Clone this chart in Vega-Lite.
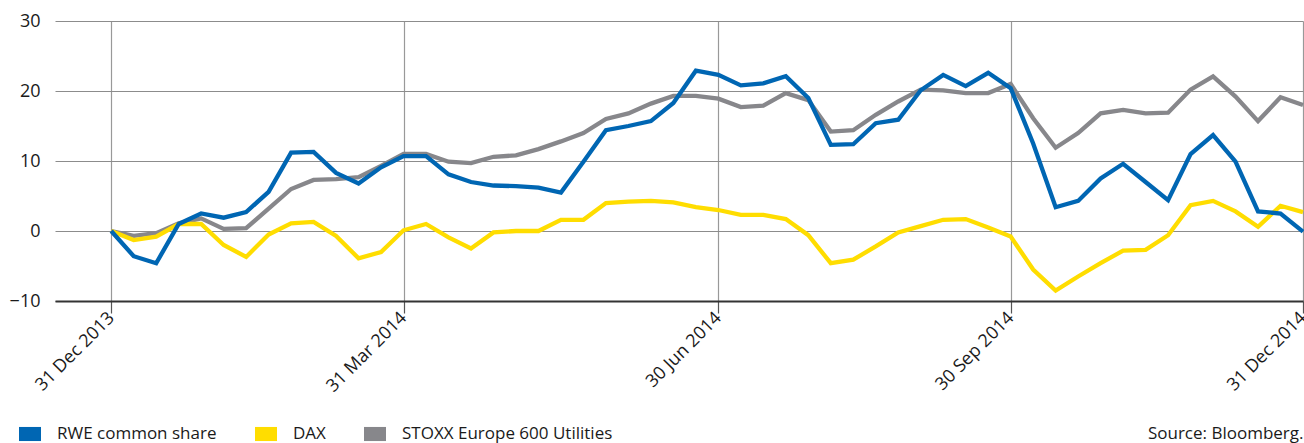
{
  "$schema": "https://vega.github.io/schema/vega-lite/v6.json",
  "autosize": {"type": "none"},
  "width": 1248,
  "height": 280,
  "padding": {"left": 55, "top": 21, "right": 1, "bottom": 142},
  "background": "white",
  "config": {
    "view": {"stroke": null},
    "font": "Open Sans"
  },
  "data": {
    "values": [
      {"week": 0, "series": "STOXX Europe 600 Utilities", "value": 0},
      {"week": 1, "series": "STOXX Europe 600 Utilities", "value": -0.7},
      {"week": 2, "series": "STOXX Europe 600 Utilities", "value": -0.3},
      {"week": 3, "series": "STOXX Europe 600 Utilities", "value": 1.1},
      {"week": 4, "series": "STOXX Europe 600 Utilities", "value": 1.8},
      {"week": 5, "series": "STOXX Europe 600 Utilities", "value": 0.3},
      {"week": 6, "series": "STOXX Europe 600 Utilities", "value": 0.4},
      {"week": 7, "series": "STOXX Europe 600 Utilities", "value": 3.2},
      {"week": 8, "series": "STOXX Europe 600 Utilities", "value": 6.0},
      {"week": 9, "series": "STOXX Europe 600 Utilities", "value": 7.3},
      {"week": 10, "series": "STOXX Europe 600 Utilities", "value": 7.4},
      {"week": 11, "series": "STOXX Europe 600 Utilities", "value": 7.7},
      {"week": 12, "series": "STOXX Europe 600 Utilities", "value": 9.3},
      {"week": 13, "series": "STOXX Europe 600 Utilities", "value": 11.0},
      {"week": 14, "series": "STOXX Europe 600 Utilities", "value": 11.0},
      {"week": 15, "series": "STOXX Europe 600 Utilities", "value": 9.9},
      {"week": 16, "series": "STOXX Europe 600 Utilities", "value": 9.7},
      {"week": 17, "series": "STOXX Europe 600 Utilities", "value": 10.6},
      {"week": 18, "series": "STOXX Europe 600 Utilities", "value": 10.8},
      {"week": 19, "series": "STOXX Europe 600 Utilities", "value": 11.7},
      {"week": 20, "series": "STOXX Europe 600 Utilities", "value": 12.8},
      {"week": 21, "series": "STOXX Europe 600 Utilities", "value": 14.0},
      {"week": 22, "series": "STOXX Europe 600 Utilities", "value": 16.0},
      {"week": 23, "series": "STOXX Europe 600 Utilities", "value": 16.8},
      {"week": 24, "series": "STOXX Europe 600 Utilities", "value": 18.2},
      {"week": 25, "series": "STOXX Europe 600 Utilities", "value": 19.3},
      {"week": 26, "series": "STOXX Europe 600 Utilities", "value": 19.3},
      {"week": 27, "series": "STOXX Europe 600 Utilities", "value": 18.9},
      {"week": 28, "series": "STOXX Europe 600 Utilities", "value": 17.7},
      {"week": 29, "series": "STOXX Europe 600 Utilities", "value": 17.9},
      {"week": 30, "series": "STOXX Europe 600 Utilities", "value": 19.7},
      {"week": 31, "series": "STOXX Europe 600 Utilities", "value": 18.7},
      {"week": 32, "series": "STOXX Europe 600 Utilities", "value": 14.2},
      {"week": 33, "series": "STOXX Europe 600 Utilities", "value": 14.4},
      {"week": 34, "series": "STOXX Europe 600 Utilities", "value": 16.6},
      {"week": 35, "series": "STOXX Europe 600 Utilities", "value": 18.5},
      {"week": 36, "series": "STOXX Europe 600 Utilities", "value": 20.2},
      {"week": 37, "series": "STOXX Europe 600 Utilities", "value": 20.1},
      {"week": 38, "series": "STOXX Europe 600 Utilities", "value": 19.7},
      {"week": 39, "series": "STOXX Europe 600 Utilities", "value": 19.7},
      {"week": 40, "series": "STOXX Europe 600 Utilities", "value": 21.0},
      {"week": 41, "series": "STOXX Europe 600 Utilities", "value": 16.1},
      {"week": 42, "series": "STOXX Europe 600 Utilities", "value": 11.9},
      {"week": 43, "series": "STOXX Europe 600 Utilities", "value": 14.0},
      {"week": 44, "series": "STOXX Europe 600 Utilities", "value": 16.8},
      {"week": 45, "series": "STOXX Europe 600 Utilities", "value": 17.3},
      {"week": 46, "series": "STOXX Europe 600 Utilities", "value": 16.8},
      {"week": 47, "series": "STOXX Europe 600 Utilities", "value": 16.9},
      {"week": 48, "series": "STOXX Europe 600 Utilities", "value": 20.2},
      {"week": 49, "series": "STOXX Europe 600 Utilities", "value": 22.1},
      {"week": 50, "series": "STOXX Europe 600 Utilities", "value": 19.2},
      {"week": 51, "series": "STOXX Europe 600 Utilities", "value": 15.7},
      {"week": 52, "series": "STOXX Europe 600 Utilities", "value": 19.1},
      {"week": 53, "series": "STOXX Europe 600 Utilities", "value": 18.0},
      {"week": 0, "series": "DAX", "value": 0},
      {"week": 1, "series": "DAX", "value": -1.3},
      {"week": 2, "series": "DAX", "value": -0.8},
      {"week": 3, "series": "DAX", "value": 1.0},
      {"week": 4, "series": "DAX", "value": 1.0},
      {"week": 5, "series": "DAX", "value": -2.0},
      {"week": 6, "series": "DAX", "value": -3.7},
      {"week": 7, "series": "DAX", "value": -0.5},
      {"week": 8, "series": "DAX", "value": 1.1},
      {"week": 9, "series": "DAX", "value": 1.3},
      {"week": 10, "series": "DAX", "value": -0.7},
      {"week": 11, "series": "DAX", "value": -3.9},
      {"week": 12, "series": "DAX", "value": -3.0},
      {"week": 13, "series": "DAX", "value": 0.1},
      {"week": 14, "series": "DAX", "value": 1.0},
      {"week": 15, "series": "DAX", "value": -0.9},
      {"week": 16, "series": "DAX", "value": -2.5},
      {"week": 17, "series": "DAX", "value": -0.2},
      {"week": 18, "series": "DAX", "value": 0.0},
      {"week": 19, "series": "DAX", "value": 0.0},
      {"week": 20, "series": "DAX", "value": 1.6},
      {"week": 21, "series": "DAX", "value": 1.6},
      {"week": 22, "series": "DAX", "value": 4.0},
      {"week": 23, "series": "DAX", "value": 4.2},
      {"week": 24, "series": "DAX", "value": 4.3},
      {"week": 25, "series": "DAX", "value": 4.1},
      {"week": 26, "series": "DAX", "value": 3.4},
      {"week": 27, "series": "DAX", "value": 3.0},
      {"week": 28, "series": "DAX", "value": 2.3},
      {"week": 29, "series": "DAX", "value": 2.3},
      {"week": 30, "series": "DAX", "value": 1.7},
      {"week": 31, "series": "DAX", "value": -0.6},
      {"week": 32, "series": "DAX", "value": -4.6},
      {"week": 33, "series": "DAX", "value": -4.1},
      {"week": 34, "series": "DAX", "value": -2.2},
      {"week": 35, "series": "DAX", "value": -0.2},
      {"week": 36, "series": "DAX", "value": 0.7},
      {"week": 37, "series": "DAX", "value": 1.6},
      {"week": 38, "series": "DAX", "value": 1.7},
      {"week": 39, "series": "DAX", "value": 0.5},
      {"week": 40, "series": "DAX", "value": -0.8},
      {"week": 41, "series": "DAX", "value": -5.5},
      {"week": 42, "series": "DAX", "value": -8.5},
      {"week": 43, "series": "DAX", "value": -6.5},
      {"week": 44, "series": "DAX", "value": -4.6},
      {"week": 45, "series": "DAX", "value": -2.8},
      {"week": 46, "series": "DAX", "value": -2.7},
      {"week": 47, "series": "DAX", "value": -0.6},
      {"week": 48, "series": "DAX", "value": 3.7},
      {"week": 49, "series": "DAX", "value": 4.3},
      {"week": 50, "series": "DAX", "value": 2.8},
      {"week": 51, "series": "DAX", "value": 0.6},
      {"week": 52, "series": "DAX", "value": 3.6},
      {"week": 53, "series": "DAX", "value": 2.7},
      {"week": 0, "series": "RWE common share", "value": 0},
      {"week": 1, "series": "RWE common share", "value": -3.6},
      {"week": 2, "series": "RWE common share", "value": -4.6},
      {"week": 3, "series": "RWE common share", "value": 1.0},
      {"week": 4, "series": "RWE common share", "value": 2.5},
      {"week": 5, "series": "RWE common share", "value": 1.9},
      {"week": 6, "series": "RWE common share", "value": 2.7},
      {"week": 7, "series": "RWE common share", "value": 5.6},
      {"week": 8, "series": "RWE common share", "value": 11.2},
      {"week": 9, "series": "RWE common share", "value": 11.3},
      {"week": 10, "series": "RWE common share", "value": 8.3},
      {"week": 11, "series": "RWE common share", "value": 6.8},
      {"week": 12, "series": "RWE common share", "value": 9.1},
      {"week": 13, "series": "RWE common share", "value": 10.7},
      {"week": 14, "series": "RWE common share", "value": 10.7},
      {"week": 15, "series": "RWE common share", "value": 8.1},
      {"week": 16, "series": "RWE common share", "value": 7.0},
      {"week": 17, "series": "RWE common share", "value": 6.5},
      {"week": 18, "series": "RWE common share", "value": 6.4},
      {"week": 19, "series": "RWE common share", "value": 6.2},
      {"week": 20, "series": "RWE common share", "value": 5.5},
      {"week": 21, "series": "RWE common share", "value": 9.9},
      {"week": 22, "series": "RWE common share", "value": 14.4},
      {"week": 23, "series": "RWE common share", "value": 15.0},
      {"week": 24, "series": "RWE common share", "value": 15.7},
      {"week": 25, "series": "RWE common share", "value": 18.3},
      {"week": 26, "series": "RWE common share", "value": 22.9},
      {"week": 27, "series": "RWE common share", "value": 22.3},
      {"week": 28, "series": "RWE common share", "value": 20.8},
      {"week": 29, "series": "RWE common share", "value": 21.1},
      {"week": 30, "series": "RWE common share", "value": 22.1},
      {"week": 31, "series": "RWE common share", "value": 19.0},
      {"week": 32, "series": "RWE common share", "value": 12.3},
      {"week": 33, "series": "RWE common share", "value": 12.4},
      {"week": 34, "series": "RWE common share", "value": 15.4},
      {"week": 35, "series": "RWE common share", "value": 15.9},
      {"week": 36, "series": "RWE common share", "value": 20.1},
      {"week": 37, "series": "RWE common share", "value": 22.3},
      {"week": 38, "series": "RWE common share", "value": 20.7},
      {"week": 39, "series": "RWE common share", "value": 22.6},
      {"week": 40, "series": "RWE common share", "value": 20.4},
      {"week": 41, "series": "RWE common share", "value": 12.5},
      {"week": 42, "series": "RWE common share", "value": 3.4},
      {"week": 43, "series": "RWE common share", "value": 4.3},
      {"week": 44, "series": "RWE common share", "value": 7.5},
      {"week": 45, "series": "RWE common share", "value": 9.6},
      {"week": 46, "series": "RWE common share", "value": 7.0},
      {"week": 47, "series": "RWE common share", "value": 4.4},
      {"week": 48, "series": "RWE common share", "value": 11.0},
      {"week": 49, "series": "RWE common share", "value": 13.7},
      {"week": 50, "series": "RWE common share", "value": 9.9},
      {"week": 51, "series": "RWE common share", "value": 2.8},
      {"week": 52, "series": "RWE common share", "value": 2.5},
      {"week": 53, "series": "RWE common share", "value": -0.1}
    ]
  },
  "mark": {"type": "line", "strokeWidth": 4.3, "strokeJoin": "miter", "clip": false},
  "encoding": {
    "x": {
      "field": "week",
      "type": "quantitative",
      "scale": {"domain": [-2.5, 53], "nice": false, "zero": false},
      "axis": {
        "title": "Source: Bloomberg.",
        "titleAnchor": "end",
        "titleAlign": "right",
        "titleBaseline": "top",
        "titlePadding": 30,
        "titleFont": "Open Sans",
        "titleFontSize": 17,
        "titleFontWeight": "normal",
        "titleColor": "#1a1a1a",
        "values": [0, 13, 27, 40, 53],
        "labelExpr": "datum.value == 0 ? '31 Dec 2013' : datum.value == 13 ? '31 Mar 2014' : datum.value == 27 ? '30 Jun 2014' : datum.value == 40 ? '30 Sep 2014' : '31 Dec 2014'",
        "labelAngle": -45,
        "labelAlign": "right",
        "labelBaseline": "middle",
        "labelFont": "Open Sans",
        "labelFontSize": 18,
        "labelColor": "#1a1a1a",
        "labelPadding": 2,
        "labelOverlap": false,
        "labelBound": false,
        "labelFlush": false,
        "grid": true,
        "gridColor": "#999999",
        "gridWidth": 1.2,
        "domainColor": "#333333",
        "domainWidth": 2,
        "tickColor": "#555555",
        "tickSize": 12,
        "tickWidth": 1.2
      }
    },
    "y": {
      "field": "value",
      "type": "quantitative",
      "scale": {"domain": [-10, 30], "nice": false, "zero": false},
      "axis": {
        "title": null,
        "values": [-10, 0, 10, 20, 30],
        "domain": false,
        "ticks": false,
        "labelPadding": 15,
        "labelFont": "Open Sans",
        "labelFontSize": 18,
        "labelColor": "#1a1a1a",
        "grid": true,
        "gridColor": "#8c8c8c",
        "gridWidth": 1.2
      }
    },
    "color": {
      "field": "series",
      "type": "nominal",
      "scale": {
        "domain": ["RWE common share", "DAX", "STOXX Europe 600 Utilities"],
        "range": ["#0066b3", "#ffdd00", "#87878b"]
      },
      "legend": {
        "title": null,
        "orient": "none",
        "direction": "horizontal",
        "legendX": -36,
        "legendY": 402,
        "symbolType": "M-1,-0.64H1V0.64H-1Z",
        "symbolSize": 484,
        "symbolStrokeWidth": 0,
        "labelFont": "Open Sans",
        "labelFontSize": 17,
        "labelColor": "#1a1a1a",
        "labelOffset": 16,
        "columnPadding": 38,
        "labelLimit": 400,
        "encode": {
          "symbols": {
            "update": {
              "fill": {"scale": "color", "field": "value"},
              "stroke": {"value": "transparent"},
              "opacity": {"value": 1}
            }
          }
        }
      }
    }
  }
}
